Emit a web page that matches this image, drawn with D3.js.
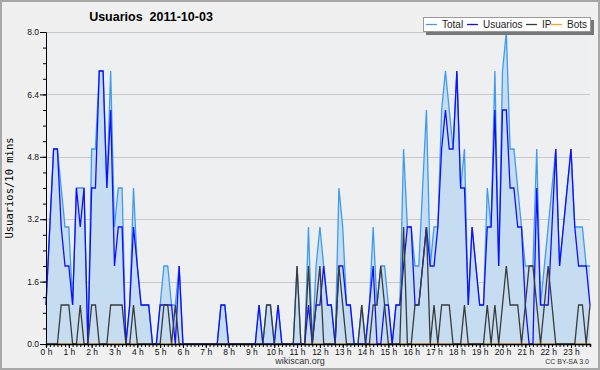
<!DOCTYPE html>
<html>
<head>
<meta charset="utf-8">
<script src="https://cdn.jsdelivr.net/npm/d3@7"></script>
<style>
  body { margin: 0; background: #f0f0f0; }
  svg { display: block; font-family: "Liberation Sans", Arial, sans-serif; }
  .tick-label { font-size: 8.5px; fill: #111; }
</style>
</head>
<body>
<div id="chart"></div>
<script>
// one value every 10 minutes, 0:00 -> 23:50
const HOUR_LABELS = ["0 h","1 h","2 h","3 h","4 h","5 h","6 h","7 h","8 h","9 h","10 h","11 h",
  "12 h","13 h","14 h","15 h","16 h","17 h","18 h","19 h","20 h","21 h","22 h","23 h"];
const Y_TICKS = [0, 1.6, 3.2, 4.8, 6.4, 8.0];

const TOTAL = [1,3,5,5,4,3,3,1,4,4, 4,0,5,5,7,7,4,7,3,4, 4,0,1,4,2,1,1,1,0,0,
  1,2,2,1,1,2,0,0,0,0, 0,0,0,0,0,0,1,1,0,0, 0,0,0,0,0,0,1,0,1,1,
  0,1,0,0,0,0,2,0,0,3, 0,2,3,2,1,1,0,4,3,1, 1,0,0,1,0,1,3,1,2,2,
  1,0,1,1,5,3,3,2,2,4, 6,2,3,3,6,7,6,5,7,4, 5,1,3,2,1,1,4,3,7,2,
  7,8,5,5,4,3,2,2,2,5, 1,2,3,4,5,2,3,4,5,3, 3,3,2,2];
const USUARIOS = [1,3,5,5,3,2,2,1,4,3, 4,0,4,4,7,7,4,6,2,3, 3,0,1,3,2,1,1,1,0,0,
  1,1,1,1,0,2,0,0,0,0, 0,0,0,0,0,0,1,1,0,0, 0,0,0,0,0,0,1,0,0,0,
  0,1,0,0,0,0,0,0,0,1, 0,1,1,2,1,1,0,2,2,1, 1,0,0,0,0,1,2,0,0,1,
  1,0,1,1,2,3,3,1,1,2, 3,2,2,3,5,6,5,5,7,4, 4,1,3,2,1,1,3,3,6,2,
  6,6,4,4,3,3,1,0,0,4, 1,1,1,3,5,2,3,4,5,3, 2,2,2,1];
const IP = [0,0,0,0,1,1,1,0,0,1, 0,0,1,1,0,0,0,1,1,1, 1,0,0,1,0,0,0,0,0,0,
  0,1,1,0,1,0,0,0,0,0, 0,0,0,0,0,0,0,0,0,0, 0,0,0,0,0,0,0,0,1,1,
  0,0,0,0,0,0,2,0,0,2, 0,1,2,0,0,0,0,2,1,0, 0,0,0,1,0,0,1,1,2,1,
  0,0,0,0,3,0,0,1,1,2, 3,0,1,0,1,1,1,0,0,0, 1,0,0,0,0,0,1,0,1,0,
  1,2,1,1,1,0,1,2,2,1, 0,1,2,1,0,0,0,0,0,0, 1,1,0,1];
const BOTS = [0,0,0,0,0,0,0,0,0,0, 0,0,0,0,0,0,0,0,0,0, 0,0,0,0,0,0,0,0,0,0,
  0,0,0,0,0,0,0,0,0,0, 0,0,0,0,0,0,0,0,0,0, 0,0,0,0,0,0,0,0,0,0,
  0,0,0,0,0,0,0,0,0,0, 0,0,0,0,0,0,0,0,0,0, 0,0,0,0,0,0,0,0,0,0,
  0,0,0,0,0,0,0,0,0,0, 0,0,0,0,0,0,0,0,0,0, 0,0,0,0,0,0,0,0,0,0,
  0,0,0,0,0,0,0,0,0,0, 0,0,0,0,0,0,0,0,0,0, 0,0,0,0];

const SERIES = [
  { name: "Total", values: TOTAL, color: "#3d9bf0" },
  { name: "Usuarios", values: USUARIOS, color: "#1010ff" },
  { name: "IP", values: IP, color: "#3a3a3a" },
  { name: "Bots", values: BOTS, color: "#ffa21a" }
];

const WIDTH = 600;
const HEIGHT = 370;
const PLOT = { LEFT: 46, RIGHT: 590, TOP: 32, BOTTOM: 344 };

const SVG = d3.select("#chart").append("svg")
  .attr("width", WIDTH)
  .attr("height", HEIGHT);

SVG.append("rect")
  .attr("x", 1).attr("y", 1)
  .attr("width", WIDTH - 2).attr("height", HEIGHT - 2)
  .attr("fill", "#f0f0f0")
  .attr("stroke", "#a8a8a8")
  .attr("stroke-width", 2);

const X_SCALE = d3.scaleLinear()
  .domain([0, TOTAL.length - 1])
  .range([PLOT.LEFT, PLOT.RIGHT]);

const Y_SCALE = d3.scaleLinear()
  .domain([0, 8])
  .range([PLOT.BOTTOM, PLOT.TOP]);

SVG.append("rect")
  .attr("x", PLOT.LEFT).attr("y", PLOT.TOP)
  .attr("width", PLOT.RIGHT - PLOT.LEFT)
  .attr("height", PLOT.BOTTOM - PLOT.TOP)
  .attr("fill", "#eeeff1");

// grid lines
SVG.append("g")
  .selectAll("line")
  .data(Y_TICKS.filter((d) => d > 0))
  .enter()
  .append("line")
  .attr("x1", PLOT.LEFT)
  .attr("x2", PLOT.RIGHT)
  .attr("y1", (d) => Math.round(Y_SCALE(d)) + 0.5)
  .attr("y2", (d) => Math.round(Y_SCALE(d)) + 0.5)
  .attr("stroke", "#c9c9cc");

// area under total
const AREA = d3.area()
  .x((d, i) => X_SCALE(i))
  .y0(Y_SCALE(0))
  .y1((d) => Y_SCALE(d));

SVG.append("path")
  .datum(TOTAL)
  .attr("d", AREA)
  .attr("fill", "#c6ddf1");

const LINE = d3.line()
  .x((d, i) => X_SCALE(i))
  .y((d) => Y_SCALE(d));

// bots first so they sit under the axis
[SERIES[3], SERIES[0], SERIES[1], SERIES[2]].forEach((s) => {
  SVG.append("path")
    .datum(s.values)
    .attr("d", LINE)
    .attr("fill", "none")
    .attr("stroke", s.color)
    .attr("stroke-width", 1.3)
    .attr("stroke-linejoin", "miter");
});

// y axis
const Y_AXIS = d3.axisLeft(Y_SCALE)
  .tickValues(d3.range(0, 8.01, 0.4))
  .tickSize(3)
  .tickFormat("");

SVG.append("g")
  .attr("transform", "translate(" + PLOT.LEFT + ",0)")
  .call(Y_AXIS)
  .call((g) => g.select(".domain").attr("stroke", "#000"));

SVG.append("g")
  .attr("transform", "translate(" + PLOT.LEFT + ",0)")
  .call(d3.axisLeft(Y_SCALE).tickValues(Y_TICKS).tickSize(6).tickPadding(1).tickFormat(d3.format(".1f")))
  .call((g) => g.select(".domain").remove())
  .call((g) => g.selectAll("text").attr("class", "tick-label").attr("font-family", null).attr("font-size", null));

// x axis: a tick every 10 minutes, labels every hour
SVG.append("g")
  .attr("transform", "translate(0," + PLOT.BOTTOM + ")")
  .call(d3.axisBottom(X_SCALE).tickValues(d3.range(0, TOTAL.length)).tickSize(3).tickFormat(""))
  .call((g) => g.select(".domain").attr("stroke", "#000").attr("stroke-width", 1.5));

SVG.append("g")
  .attr("transform", "translate(0," + PLOT.BOTTOM + ")")
  .call(d3.axisBottom(X_SCALE)
    .tickValues(HOUR_LABELS.map((d, i) => i * 6))
    .tickSize(4)
    .tickPadding(1)
    .tickFormat((d) => HOUR_LABELS[d / 6]))
  .call((g) => g.select(".domain").remove())
  .call((g) => g.selectAll("text").attr("class", "tick-label").attr("font-family", null).attr("font-size", null));

// titles
SVG.append("text")
  .attr("x", 151)
  .attr("y", 21)
  .attr("text-anchor", "middle")
  .attr("font-weight", "bold")
  .attr("font-size", "12.5px")
  .attr("xml:space", "preserve")
  .text("Usuarios  2011-10-03");

SVG.append("text")
  .attr("transform", "translate(13," + (PLOT.TOP + PLOT.BOTTOM) / 2 + ") rotate(-90)")
  .attr("text-anchor", "middle")
  .attr("font-family", "'DejaVu Sans Mono', monospace")
  .attr("font-size", "10.5px")
  .text("Usuarios/10 mins");

SVG.append("text")
  .attr("x", 300)
  .attr("y", 364)
  .attr("text-anchor", "middle")
  .attr("font-size", "9px")
  .attr("fill", "#333")
  .text("wikiscan.org");

SVG.append("text")
  .attr("x", 589)
  .attr("y", 364)
  .attr("text-anchor", "end")
  .attr("font-size", "7px")
  .attr("fill", "#333")
  .text("CC BY-SA 3.0");

// legend
const LEGEND = SVG.append("g").attr("transform", "translate(423,17)");

LEGEND.append("rect")
  .attr("x", 3).attr("y", 3)
  .attr("width", 168).attr("height", 15)
  .attr("fill", "#777");

LEGEND.append("rect")
  .attr("x", 0.5).attr("y", 0.5)
  .attr("width", 167).attr("height", 14)
  .attr("fill", "#fff")
  .attr("stroke", "#999");

const LEGEND_X = [3, 44, 103, 128];
SERIES.forEach((s, i) => {
  LEGEND.append("line")
    .attr("x1", LEGEND_X[i]).attr("x2", LEGEND_X[i] + 11)
    .attr("y1", 7.5).attr("y2", 7.5)
    .attr("stroke", s.color)
    .attr("stroke-width", 1.3);
  LEGEND.append("text")
    .attr("x", LEGEND_X[i] + 16)
    .attr("y", 11)
    .attr("font-size", "10px")
    .attr("fill", "#222")
    .text(s.name);
});
</script>
</body>
</html>
